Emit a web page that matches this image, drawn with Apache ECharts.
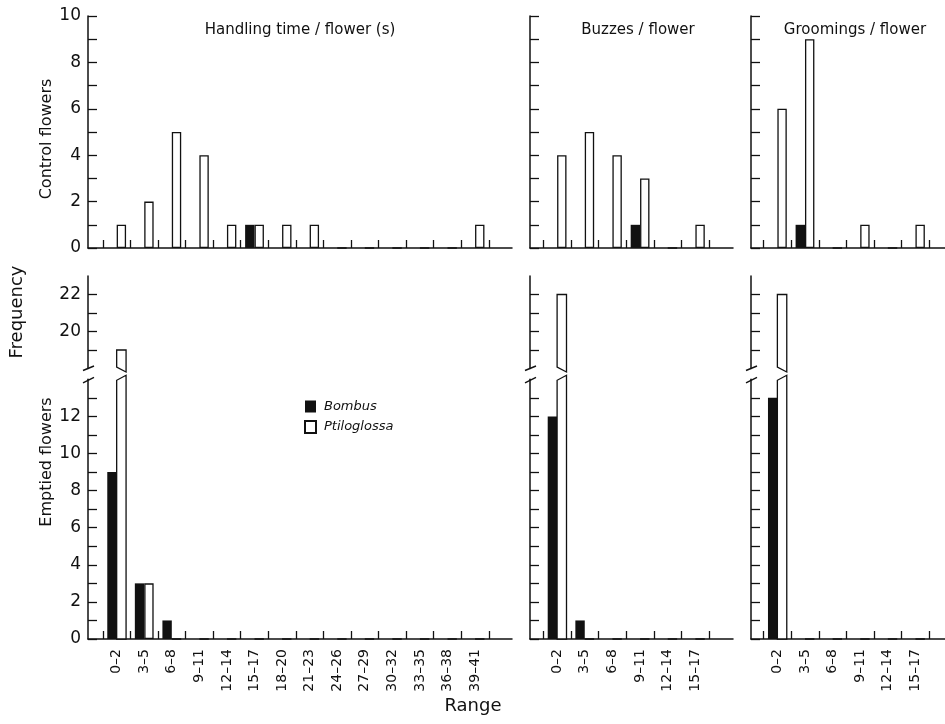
<!DOCTYPE html>
<html>
<head>
<meta charset="utf-8">
<script src="https://cdn.jsdelivr.net/npm/echarts@6/dist/echarts.min.js"></script>
<style>
  html, body { margin: 0; padding: 0; background: #fff; }
  #chart { width: 945px; height: 724px; }
</style>
</head>
<body>
<div id="chart"></div>
<script>
// Categories (ranges)
const handlingCats = ['0–2', '3–5', '6–8', '9–11', '12–14', '15–17', '18–20',
  '21–23', '24–26', '27–29', '30–32', '33–35', '36–38', '39–41'];
const shortCats = ['0–2', '3–5', '6–8', '9–11', '12–14', '15–17'];

// Control flowers
const controlHandlingBombus = [0, 0, 0, 0, 0, 1, 0, 0, 0, 0, 0, 0, 0, 0];
const controlHandlingPtilo  = [1, 2, 5, 4, 1, 1, 1, 1, 0, 0, 0, 0, 0, 1];
const controlBuzzesBombus   = [0, 0, 0, 1, 0, 0];
const controlBuzzesPtilo    = [4, 5, 4, 3, 0, 1];
const controlGroomBombus    = [0, 1, 0, 0, 0, 0];
const controlGroomPtilo     = [6, 9, 0, 1, 0, 1];

// Emptied flowers
const emptiedHandlingBombus = [9, 3, 1, 0, 0, 0, 0, 0, 0, 0, 0, 0, 0, 0];
const emptiedHandlingPtilo  = [19, 3, 0, 0, 0, 0, 0, 0, 0, 0, 0, 0, 0, 0];
const emptiedBuzzesBombus   = [12, 1, 0, 0, 0, 0];
const emptiedBuzzesPtilo    = [22, 0, 0, 0, 0, 0];
const emptiedGroomBombus    = [13, 0, 0, 0, 0, 0];
const emptiedGroomPtilo     = [22, 0, 0, 0, 0, 0];

// Y tick labels
const controlTicks = [0, 2, 4, 6, 8, 10];
const upperTicks = [20, 22];
const lowerTicks = [0, 2, 4, 6, 8, 10, 12];

const INK = '#111';
const FONT = 'DejaVu Sans';
const BAR_W = 9.4;

const panels = [
  { title: 'Handling time / flower (s)', titleX: 300, cats: handlingCats,
    left: 88, width: 424, min: -1.04, max: 14.34,
    control: [controlHandlingBombus, controlHandlingPtilo],
    emptied: [emptiedHandlingBombus, emptiedHandlingPtilo] },
  { title: 'Buzzes / flower', titleX: 638, cats: shortCats,
    left: 530, width: 203, min: -0.98, max: 6.36,
    control: [controlBuzzesBombus, controlBuzzesPtilo],
    emptied: [emptiedBuzzesBombus, emptiedBuzzesPtilo] },
  { title: 'Groomings / flower', titleX: 855, cats: shortCats,
    left: 751, width: 194, min: -0.955, max: 6.07,
    control: [controlGroomBombus, controlGroomPtilo],
    emptied: [emptiedGroomBombus, emptiedGroomPtilo] }
];

const rows = [
  { name: 'control', top: 16, height: 232, min: 0, max: 10, tickFrom: 0, tickTo: 10, labels: controlTicks },
  { name: 'upper', top: 276, height: 92.5, min: 18, max: 23, tickFrom: 19, tickTo: 22, labels: upperTicks },
  { name: 'lower', top: 379.3, height: 259.7, min: 0, max: 14, tickFrom: 0, tickTo: 13, labels: lowerTicks }
];

function range(a, b) {
  const out = [];
  for (let v = a; v <= b; v++) out.push(v);
  return out;
}

// Lower piece of a broken bar: slanted top edge
function lowerPiece(row) {
  return function (params, api) {
    const x = api.value(0);
    const base = api.coord([x, row.min]);
    const top = api.coord([x, row.max])[1];
    const l = base[0], r = base[0] + BAR_W;
    return {
      type: 'polygon',
      shape: { points: [[l, base[1]], [l, top + 1], [r, top - 4], [r, base[1]]] },
      style: { fill: '#fff', stroke: INK, lineWidth: 1.3 }
    };
  };
}

// Upper piece of a broken bar: slanted bottom edge
function upperPiece(row) {
  return function (params, api) {
    const x = api.value(0);
    const top = api.coord([x, api.value(1)]);
    const bot = api.coord([x, row.min])[1];
    const l = top[0], r = top[0] + BAR_W;
    return {
      type: 'polygon',
      shape: { points: [[l, top[1]], [r, top[1]], [r, bot + 3.5], [l, bot - 1.5]] },
      style: { fill: '#fff', stroke: INK, lineWidth: 1.3 }
    };
  };
}

// "/" mark where the y axis is broken
function breakMark(dy1, dy2) {
  return function (params, api) {
    const p = api.coord([api.value(0), api.value(1)]);
    return {
      type: 'line',
      shape: { x1: p[0] - 5, y1: p[1] + dy1, x2: p[0] + 6, y2: p[1] + dy2 },
      style: { stroke: INK, lineWidth: 1.4 }
    };
  };
}

const grids = [], xAxes = [], yAxes = [], series = [];

rows.forEach(row => {
  panels.forEach((p, pi) => {
    const gi = grids.length;
    grids.push({ left: p.left, top: row.top, width: p.width, height: row.height });

    const boundaries = p.cats.map((c, i) => i - 0.5).concat([p.cats.length - 0.5]);
    xAxes.push({
      type: 'value', gridIndex: gi, min: p.min, max: p.max,
      show: row.name !== 'upper',
      axisLine: { onZero: false, lineStyle: { color: INK, width: 1.5 } },
      axisTick: { inside: true, length: 8, customValues: boundaries, lineStyle: { color: INK, width: 1.3 } },
      axisLabel: {
        show: row.name === 'lower',
        customValues: p.cats.map((c, i) => i),
        formatter: v => p.cats[Math.round(v)],
        rotate: 90, margin: 10,
        fontFamily: FONT, fontSize: 14, color: INK
      },
      splitLine: { show: false }
    });
    yAxes.push({
      type: 'value', gridIndex: gi, min: row.min, max: row.max,
      axisLine: { show: true, onZero: false, lineStyle: { color: INK, width: 1.5 } },
      axisTick: { show: true, inside: true, length: 9, customValues: range(row.tickFrom, row.tickTo), lineStyle: { color: INK, width: 1.3 } },
      axisLabel: {
        show: pi === 0, customValues: row.labels, margin: 7,
        fontFamily: FONT, fontSize: 17, color: INK
      },
      splitLine: { show: false }
    });

    const pair = row.name === 'control' ? p.control : p.emptied;
    const bombus = pair[0], ptilo = pair[1];

    if (row.name !== 'upper') {
      series.push({
        type: 'bar', name: 'Bombus', xAxisIndex: gi, yAxisIndex: gi,
        data: bombus.map((v, i) => [i, v]),
        barWidth: BAR_W, barGap: '0%',
        itemStyle: { color: INK }
      });
      series.push({
        type: 'bar', name: 'Ptiloglossa', xAxisIndex: gi, yAxisIndex: gi,
        data: ptilo.map((v, i) => [i, v > row.max ? '-' : v]),
        barWidth: BAR_W, barGap: '0%',
        itemStyle: { color: '#fff', borderColor: INK, borderWidth: 1.3 }
      });
    }
    if (row.name === 'lower') {
      series.push({
        type: 'custom', xAxisIndex: gi, yAxisIndex: gi, z: 3,
        data: ptilo.map((v, i) => [i, v]).filter(d => d[1] > row.max),
        renderItem: lowerPiece(row)
      });
      series.push({
        type: 'custom', xAxisIndex: gi, yAxisIndex: gi, z: 4,
        data: [[p.min, row.max]],
        renderItem: breakMark(3.5, -2)
      });
    }
    if (row.name === 'upper') {
      series.push({
        type: 'custom', xAxisIndex: gi, yAxisIndex: gi, z: 3,
        data: ptilo.map((v, i) => [i, v]).filter(d => d[1] > row.min),
        renderItem: upperPiece(row)
      });
      series.push({
        type: 'custom', xAxisIndex: gi, yAxisIndex: gi, z: 4,
        data: [[p.min, row.min]],
        renderItem: breakMark(2, -2.5)
      });
    }
  });
});

const textStyle = { fill: INK, fontFamily: FONT, textAlign: 'center', textVerticalAlign: 'middle' };
const graphics = panels.map(p => ({
  type: 'text', x: p.titleX, y: 30,
  style: Object.assign({ text: p.title, fontSize: 15 }, textStyle)
}));
graphics.push(
  { type: 'text', x: 47, y: 139, rotation: Math.PI / 2, style: Object.assign({ text: 'Control flowers', fontSize: 16 }, textStyle) },
  { type: 'text', x: 47, y: 462, rotation: Math.PI / 2, style: Object.assign({ text: 'Emptied flowers', fontSize: 16 }, textStyle) },
  { type: 'text', x: 17, y: 312, rotation: Math.PI / 2, style: Object.assign({ text: 'Frequency', fontSize: 18 }, textStyle) },
  { type: 'text', x: 473, y: 706, style: Object.assign({ text: 'Range', fontSize: 18 }, textStyle) }
);

const chart = echarts.init(document.getElementById('chart'));
chart.setOption({
  backgroundColor: '#fff',
  animation: false,
  legend: {
    left: 299, top: 395, orient: 'vertical',
    itemWidth: 11, itemHeight: 12, itemGap: 7,
    data: [{ name: 'Bombus', icon: 'rect' }, { name: 'Ptiloglossa', icon: 'rect' }],
    textStyle: { fontFamily: FONT, fontStyle: 'italic', fontSize: 13, color: INK, padding: [0, 0, 0, 3] }
  },
  grid: grids,
  xAxis: xAxes,
  yAxis: yAxes,
  series: series,
  graphic: graphics
});
</script>
</body>
</html>
